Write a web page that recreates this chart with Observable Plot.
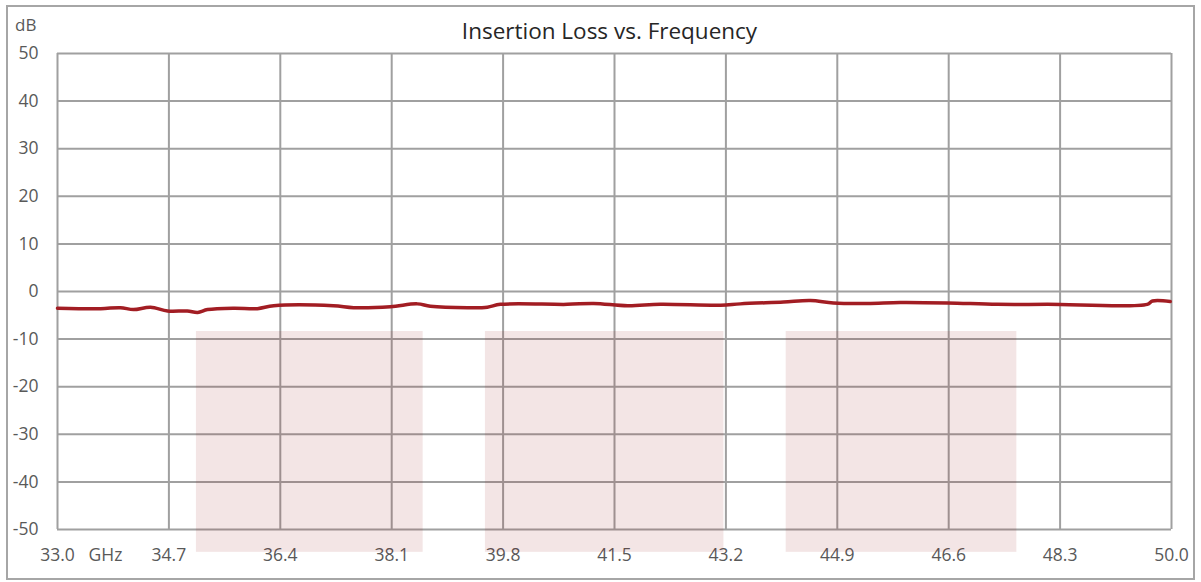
<!DOCTYPE html>
<html>
<head>
<meta charset="utf-8">
<script src="https://cdn.jsdelivr.net/npm/d3@7"></script>
<script src="https://cdn.jsdelivr.net/npm/@observablehq/plot@0.6"></script>
<style>
  html, body { margin: 0; padding: 0; background: #fff; }
  #wrap { position: relative; width: 1201px; height: 582px; overflow: hidden; font-family: "Open Sans", sans-serif; }
  #border { position: absolute; left: 6px; top: 5px; width: 1185px; height: 571px; border: 2px solid #a6a6a6; }
  #title { position: absolute; left: 0; width: 1219px; top: 15px; text-align: center; font-size: 22.5px; color: #262626; }
  #ylab { position: absolute; left: 15px; top: 13px; font-size: 17px; color: #595959; }
  #chart { position: absolute; left: 0; top: 0; }
  #chart svg text { font-size: 17.5px; }
</style>
</head>
<body>
<div id="wrap">
  <div id="chart"></div>
  <div id="border"></div>
  <div id="title">Insertion Loss vs. Frequency</div>
  <div id="ylab">dB</div>
</div>
<script>
const freq = [33.0, 33.66, 33.96, 34.16, 34.42, 34.68, 34.98, 35.14, 35.29, 35.69, 36.05, 36.30, 37.21, 37.52, 38.08, 38.49, 38.69, 39.26, 39.56, 39.76, 40.78, 41.18, 41.70, 42.20, 43.12, 43.42, 44.08, 44.49, 44.84, 45.36, 45.86, 46.58, 47.34, 48.11, 49.63, 49.71, 49.98];
const loss = [-3.5, -3.6, -3.4, -3.8, -3.3, -4.1, -4.1, -4.4, -3.8, -3.5, -3.6, -3.0, -3.0, -3.4, -3.2, -2.6, -3.1, -3.4, -3.3, -2.7, -2.7, -2.5, -3.0, -2.7, -2.9, -2.6, -2.2, -1.9, -2.4, -2.5, -2.3, -2.4, -2.7, -2.7, -2.7, -2.0, -2.1];
const bandStart = [35.12, 39.53, 44.12];
const bandEnd = [38.58, 43.17, 47.64];
const bandTop = [-8.4, -8.4, -8.4];
const bandBottom = [-54.8, -54.8, -54.8];
const xTicks = [33.0, 34.7, 36.4, 38.1, 39.8, 41.5, 43.2, 44.9, 46.6, 48.3, 50.0];
const yTicks = [50, 40, 30, 20, 10, 0, -10, -20, -30, -40, -50];

const curve = freq.map((f, i) => ({f, v: loss[i]}));
const bands = bandStart.map((s, i) => ({x1: s, x2: bandEnd[i], y1: bandBottom[i], y2: bandTop[i]}));

const chart = Plot.plot({
  width: 1201,
  height: 582,
  marginLeft: 57,
  marginRight: 30,
  marginTop: 53,
  marginBottom: 53,
  style: { fontFamily: "Open Sans, sans-serif", fontSize: "17.5px", color: "#595959", background: "transparent", overflow: "visible" },
  x: { domain: [33, 50], ticks: xTicks, tickFormat: d => d.toFixed(1), tickSize: 0, tickPadding: 19, label: null },
  y: { domain: [-50, 50], ticks: yTicks, tickFormat: d => String(d), tickSize: 0, tickPadding: 19, label: null },
  marks: [
    Plot.ruleX(xTicks, { stroke: "#a0a0a0", strokeWidth: 2 }),
    Plot.ruleY(yTicks, { stroke: "#a0a0a0", strokeWidth: 2 }),
    Plot.rect(bands, { x1: "x1", x2: "x2", y1: "y1", y2: "y2", fill: "#8b0a0a", fillOpacity: 0.105, clip: false }),
    Plot.line(curve, { x: "f", y: "v", stroke: "#a21d23", strokeWidth: 3.5, curve: "catmull-rom" }),
    Plot.text(["GHz"], { frameAnchor: "bottom-left", dx: 31, dy: 26, textAnchor: "start", lineAnchor: "middle", fill: "#595959" })
  ]
});
document.getElementById("chart").appendChild(chart);
</script>
</body>
</html>
